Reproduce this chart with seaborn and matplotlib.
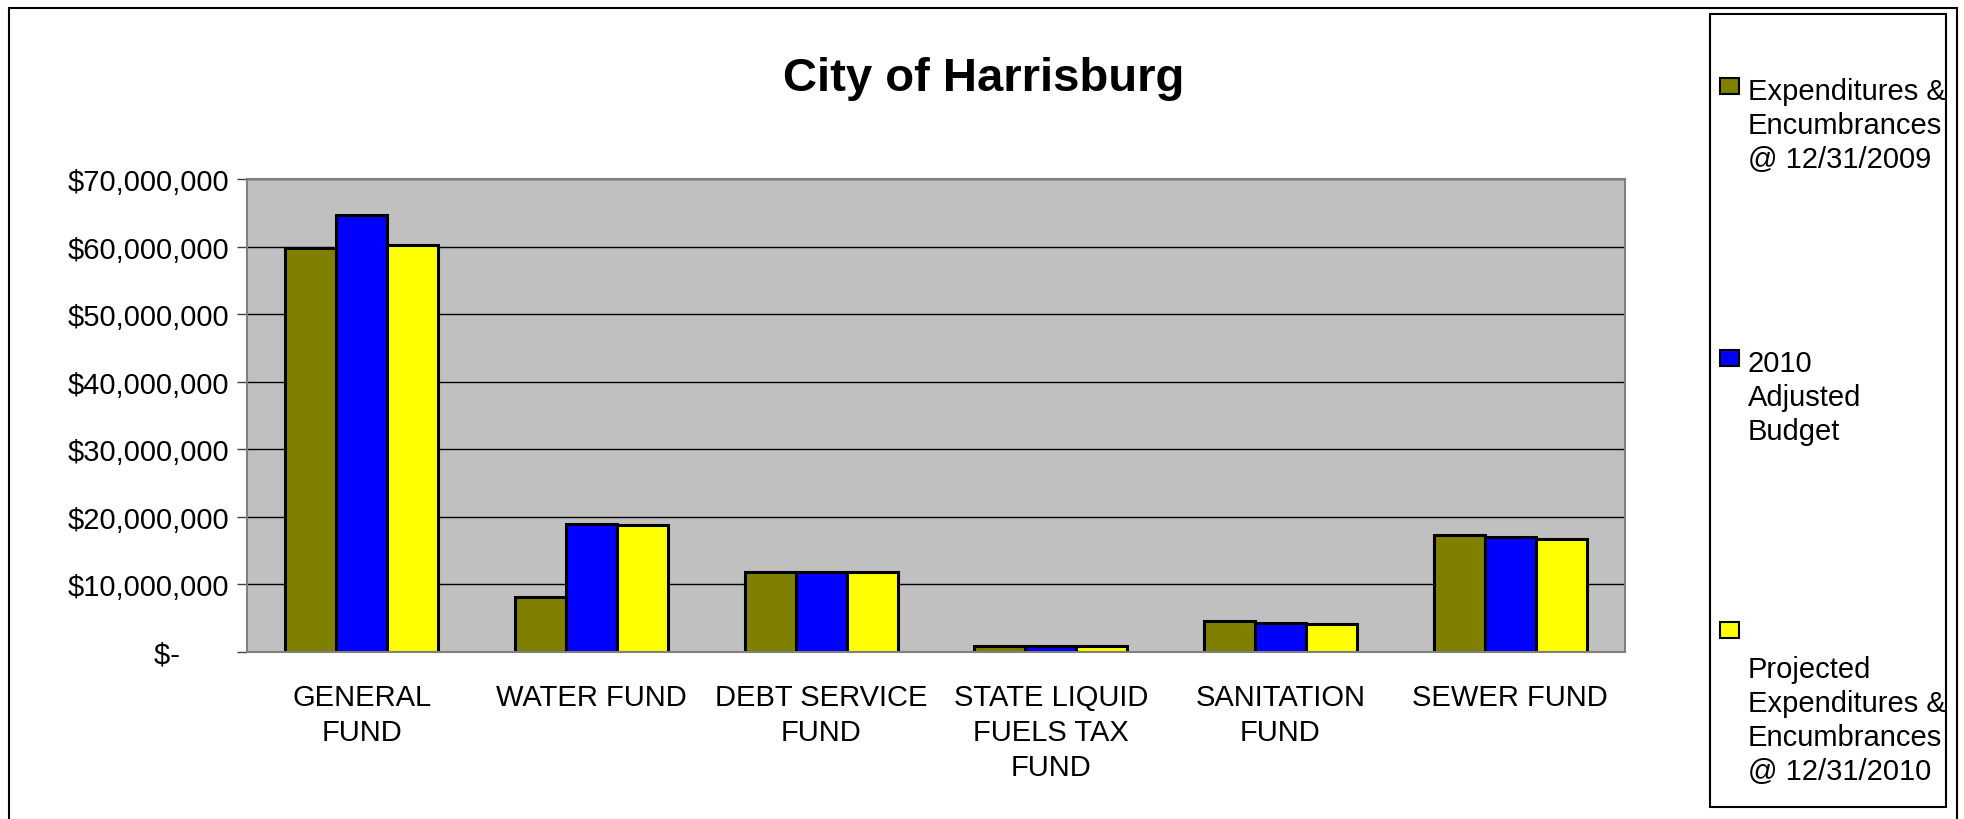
# City of Harrisburg - fund comparison bar chart
import numpy as np
import pandas as pd
import matplotlib
matplotlib.use("Agg")
import matplotlib.pyplot as plt
from matplotlib.patches import Rectangle
from matplotlib.ticker import FuncFormatter
import seaborn as sns

funds = ["GENERAL\nFUND", "WATER FUND", "DEBT SERVICE\nFUND",
         "STATE LIQUID\nFUELS TAX\nFUND", "SANITATION\nFUND", "SEWER FUND"]
series = ["Expenditures &\nEncumbrances\n@ 12/31/2009",
          "2010\nAdjusted\nBudget",
          "\nProjected\nExpenditures &\nEncumbrances\n@ 12/31/2010"]
exp_2009 = [59.8e6, 8.2e6, 11.9e6, 0.9e6, 4.6e6, 17.3e6]
budget_2010 = [64.7e6, 19.0e6, 11.9e6, 0.85e6, 4.3e6, 17.0e6]
proj_2010 = [60.2e6, 18.8e6, 11.9e6, 0.85e6, 4.15e6, 16.7e6]
colors = ["#808000", "#0000FF", "#FFFF00"]

W, H = 1965, 820

rows = []
for s, vals in zip(series, [exp_2009, budget_2010, proj_2010]):
    for f, v in zip(funds, vals):
        rows.append((f, s, v))
df = pd.DataFrame(rows, columns=["fund", "series", "value"])

sns.set_style("white")
plt.rcParams["font.family"] = ["Liberation Sans", "DejaVu Sans"]
plt.rcParams["text.color"] = "black"
plt.rcParams["xtick.color"] = "black"
plt.rcParams["ytick.color"] = "black"

fig = plt.figure(figsize=(W / 100, H / 100), dpi=100)
# axes box in pixels: left 247, right 1625, top 180, bottom 653
ax = fig.add_axes([247 / W, 1 - 653 / H, (1625 - 247) / W, (653 - 180) / H])
ax.set_facecolor("#C0C0C0")

sns.barplot(data=df, x="fund", y="value", hue="series", order=funds,
            hue_order=series, palette=colors, saturation=1, width=0.667,
            gap=0, errorbar=None, edgecolor="black", linewidth=2.2,
            legend=False, ax=ax)

ax.set_xlim(-0.5, 5.5)
ax.set_ylim(0, 70e6)
ax.set_yticks(np.arange(0, 70e6 + 1, 10e6))


def money(v, pos):
    if v == 0:
        return "$-      "
    return "${:,.0f}".format(v)


ax.yaxis.set_major_formatter(FuncFormatter(money))
ax.yaxis.grid(True, color="black", linewidth=1)
ax.set_axisbelow(True)
ax.set_xlabel("")
ax.set_ylabel("")

ax.set_xticks(range(len(funds)))
ax.set_xticklabels(funds, fontsize=21, linespacing=1.32, color="black")
ax.set_xticks(np.arange(-0.5, len(funds), 1), minor=True)
ax.tick_params(axis="x", which="major", length=0, pad=22)
ax.tick_params(axis="x", which="minor", length=7, width=1, color="black",
               direction="out")
ax.tick_params(axis="y", labelsize=21, length=7, width=1, color="#404040",
               labelcolor="black", direction="out", pad=6, left=True)
for sp in ax.spines.values():
    sp.set_color("#808080")
    sp.set_linewidth(1.5)

fig.text(984 / W, 1 - 91 / H, "City of Harrisburg", ha="center",
         va="baseline", fontsize=34, fontweight="bold", color="black")

# outer chart border and legend box
fig.add_artist(Rectangle((9 / W, -0.02), (1957 - 9) / W, 1.02 - 9 / H,
                         transform=fig.transFigure, fill=False,
                         edgecolor="black", linewidth=1.5))
fig.add_artist(Rectangle((1710 / W, 1 - 808 / H), (1946 - 1710) / W,
                         (808 - 15) / H, transform=fig.transFigure,
                         fill=False, edgecolor="black", linewidth=1.5))

# legend entries
for i, (label, c) in enumerate(zip(series, colors)):
    top = 79 + i * 272
    fig.add_artist(Rectangle((1720 / W, 1 - (top + 16) / H), 19 / W, 16 / H,
                             transform=fig.transFigure, facecolor=c,
                             edgecolor="black", linewidth=1.5))
    fig.text(1748 / W, 1 - (top - 1) / H, label, ha="left", va="top",
             fontsize=21, linespacing=1.27, color="black")

fig.savefig("out.png", dpi=100)
